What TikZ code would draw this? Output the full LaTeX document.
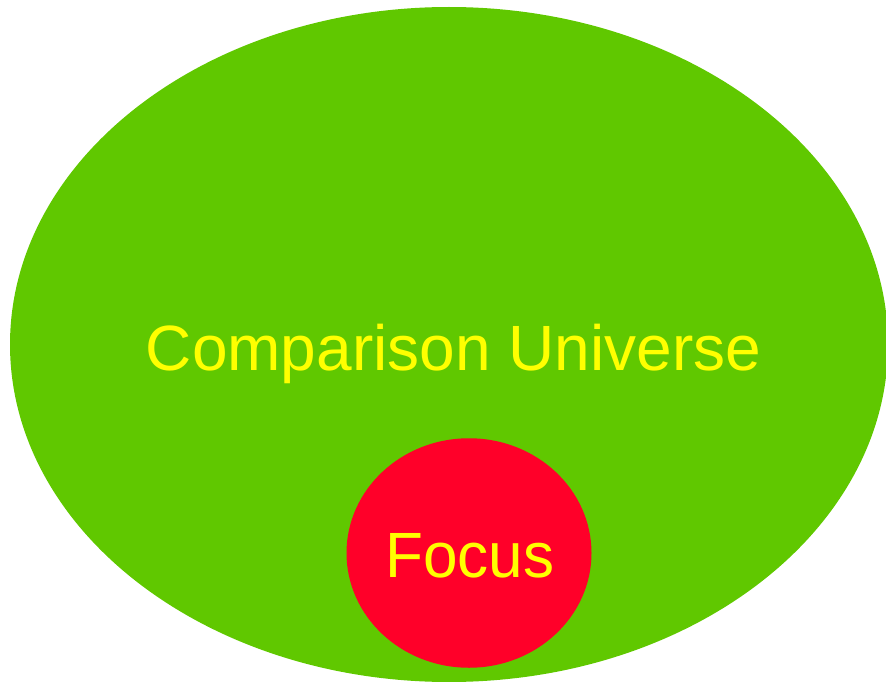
\documentclass[tikz,border=0pt]{standalone}
\usepackage{fontspec}
\setmainfont{Liberation Sans}
\usetikzlibrary{shapes.geometric}
\definecolor{unigreen}{RGB}{96,200,0}
\definecolor{focusred}{RGB}{255,0,41}
\definecolor{txtyellow}{RGB}{255,255,0}
\begin{document}
\begin{tikzpicture}[x=1pt,y=-1pt,
  blob/.style={ellipse, inner sep=0pt, outer sep=0pt, draw=none},
  lbl/.style={text=txtyellow, font=\fontsize{64}{77}\selectfont, inner sep=0pt, anchor=base}]
\useasboundingbox (0,0) rectangle (886,682);
\clip (0,0) rectangle (886,682);
\node[blob, fill=unigreen, minimum width=878pt, minimum height=675pt] (universe) at (449,344.5) {};
\node[blob, fill=focusred, minimum width=245pt, minimum height=229.5pt] (focus) at (469,553) {};
\node[lbl] (universetext) at (453.5,370) {Comparison Universe};
\node[lbl, xscale=0.97] (focustext) at (470,577.7) {Focus};
\end{tikzpicture}
\end{document}
